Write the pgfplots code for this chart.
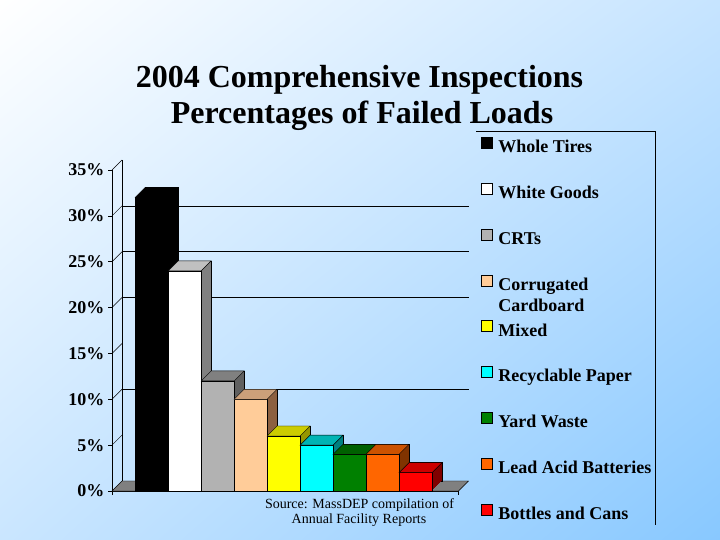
\documentclass[border=0pt]{standalone}
\usepackage{pgfplots}
\pgfplotsset{compat=1.18}
\usetikzlibrary{shadings}
\usepackage{fontspec}
\setmainfont{Liberation Serif}

\definecolor{bgUL}{RGB}{255,255,255}
\definecolor{bgUR}{RGB}{198,228,255}
\definecolor{bgLL}{RGB}{202,230,255}
\definecolor{bgLR}{RGB}{136,200,255}
\definecolor{floorgray}{RGB}{128,128,128}

\definecolor{cBlackF}{RGB}{0,0,0}\definecolor{cBlackT}{RGB}{0,0,0}\definecolor{cBlackS}{RGB}{0,0,0}
\definecolor{cWhiteF}{RGB}{255,255,255}\definecolor{cWhiteT}{RGB}{192,192,192}\definecolor{cWhiteS}{RGB}{128,128,128}
\definecolor{cGrayF}{RGB}{178,178,178}\definecolor{cGrayT}{RGB}{128,128,128}\definecolor{cGrayS}{RGB}{96,96,96}
\definecolor{cCardF}{RGB}{255,204,153}\definecolor{cCardT}{RGB}{204,160,122}\definecolor{cCardS}{RGB}{140,96,64}
\definecolor{cYelF}{RGB}{255,255,0}\definecolor{cYelT}{RGB}{204,204,0}\definecolor{cYelS}{RGB}{150,150,0}
\definecolor{cCyanF}{RGB}{0,255,255}\definecolor{cCyanT}{RGB}{0,180,180}\definecolor{cCyanS}{RGB}{0,128,128}
\definecolor{cGreenF}{RGB}{0,128,0}\definecolor{cGreenT}{RGB}{0,96,0}\definecolor{cGreenS}{RGB}{0,64,0}
\definecolor{cOrF}{RGB}{255,102,0}\definecolor{cOrT}{RGB}{204,82,0}\definecolor{cOrS}{RGB}{128,51,0}
\definecolor{cRedF}{RGB}{255,0,0}\definecolor{cRedT}{RGB}{204,0,0}\definecolor{cRedS}{RGB}{128,0,0}

\pgfdeclareplotmark{topface}{%
  \pgfpathmoveto{\pgfqpoint{-16.5bp}{0bp}}%
  \pgfpathlineto{\pgfqpoint{16.5bp}{0bp}}%
  \pgfpathlineto{\pgfqpoint{26.5bp}{10bp}}%
  \pgfpathlineto{\pgfqpoint{-6.5bp}{10bp}}%
  \pgfpathclose
  \pgfusepathqfillstroke}

\pgfplotsset{
  sqlegend/.style={legend image code/.code={\draw[##1,draw=black,line width=0.4pt] (0bp,0bp) rectangle (11bp,11bp);}},
  barbase/.style={ybar, bar width=1, bar shift=0pt},
}

% #1 x position, #2 value, #3 front, #4 top, #5 side, #6 legend text
\newcommand{\prism}[6]{%
  \addplot[barbase, fill=#5, draw=black, xshift=10bp, yshift=10bp, forget plot] coordinates {(#1,#2)};
  \pgfplotsinvokeforeach{9,8,...,1}{%
    \addplot[barbase, fill=#5, draw=none, xshift=##1bp, yshift=##1bp, forget plot] coordinates {(#1,#2)};}
  \addplot[barbase, fill=#3, draw=black, sqlegend] coordinates {(#1,#2)};
  \addlegendentry{#6}
  \addplot[only marks, mark=topface, mark options={fill=#4, draw=black}, forget plot] coordinates {(#1,#2)};
}

\begin{document}
\begin{tikzpicture}
\useasboundingbox (0,0) rectangle (720bp,540bp);
\shade[upper left=bgUL, upper right=bgUR, lower left=bgLL, lower right=bgLR] (0,0) rectangle (720bp,540bp);

\node[font=\bfseries\fontsize{32bp}{36bp}\selectfont, anchor=base] at (359.5bp,452bp) {2004 Comprehensive Inspections};
\node[font=\bfseries\fontsize{32bp}{36bp}\selectfont, anchor=base] at (362bp,416bp) {Percentages of Failed Loads};

\begin{axis}[
  at={(112bp,49bp)}, anchor=south west,
  scale only axis, width=346.5bp, height=321bp,
  xmin=-1.2, xmax=9.3, ymin=0, ymax=35,
  clip=false,
  axis x line*=bottom, axis y line*=left,
  axis line style={-, black, line width=0.6pt},
  ytick={0,5,...,35},
  xtick={-1.2,9.3}, xticklabels={},
  tick align=outside, major tick length=4bp,
  tick style={black, line width=0.6pt},
  /pgf/number format/assume math mode=true,
  yticklabel={\pgfmathprintnumber{\tick}\%},
  yticklabel style={font=\bfseries\fontsize{18bp}{20bp}\selectfont},
  legend cell align=left,
  legend style={
    at={(axis description cs:1.0649,1.1028)}, anchor=north west,
    draw=none, fill=none, inner sep=0pt, outer sep=0pt,
    font=\bfseries\fontsize{18bp}{21bp}\selectfont,
    row sep=26.15bp,
    nodes={text height=13bp, text depth=4bp, inner sep=0pt},
    /tikz/every odd column/.append style={column sep=6bp},
  },
]
% floor
\filldraw[fill=floorgray, draw=black, line width=0.5pt]
  (axis cs:-1.2,0) -- (axis cs:9.3,0) -- ([shift={(10bp,10bp)}]axis cs:9.3,0)
  -- ([shift={(10bp,10bp)}]axis cs:-1.2,0) -- cycle;
% left wall back edge and connectors
\draw[black, line width=0.5pt] ([shift={(10bp,10bp)}]axis cs:-1.2,0) -- ([shift={(10bp,10bp)}]axis cs:-1.2,35);
\pgfplotsinvokeforeach{5,10,...,35}{\draw[black, line width=0.5pt] (axis cs:-1.2,#1) -- ++(10bp,10bp);}
% back wall gridlines
\pgfplotsinvokeforeach{10,20,25,30}{\draw[black, line width=0.6pt] ([shift={(10bp,10bp)}]axis cs:-1.2,#1) -- ([shift={(10bp,10bp)}]axis cs:9.3,#1);}

\prism{0}{32}{cBlackF}{cBlackT}{cBlackS}{Whole Tires}
\prism{1}{24}{cWhiteF}{cWhiteT}{cWhiteS}{White Goods}
\prism{2}{12}{cGrayF}{cGrayT}{cGrayS}{CRTs}
\prism{3}{10}{cCardF}{cCardT}{cCardS}{\raisebox{0pt}[\height][0pt]{\begin{tabular}[t]{@{}l@{}}Corrugated\\Cardboard\end{tabular}}}
\prism{4}{6}{cYelF}{cYelT}{cYelS}{Mixed}
\prism{5}{5}{cCyanF}{cCyanT}{cCyanS}{Recyclable Paper}
\prism{6}{4}{cGreenF}{cGreenT}{cGreenS}{Yard Waste}
\prism{7}{4}{cOrF}{cOrT}{cOrS}{Lead Acid Batteries}
\prism{8}{2}{cRedF}{cRedT}{cRedS}{Bottles and Cans}
\end{axis}

% legend frame (top and right)
\draw[black, line width=0.6pt] (476bp,409bp) -- (655bp,409bp) -- (655bp,15bp);

\node[font=\fontsize{14bp}{16bp}\selectfont, anchor=base] at (359.5bp,32bp) {Source: MassDEP compilation of};
\node[font=\fontsize{14bp}{16bp}\selectfont, anchor=base] at (359bp,17bp) {Annual Facility Reports};
\end{tikzpicture}
\end{document}
